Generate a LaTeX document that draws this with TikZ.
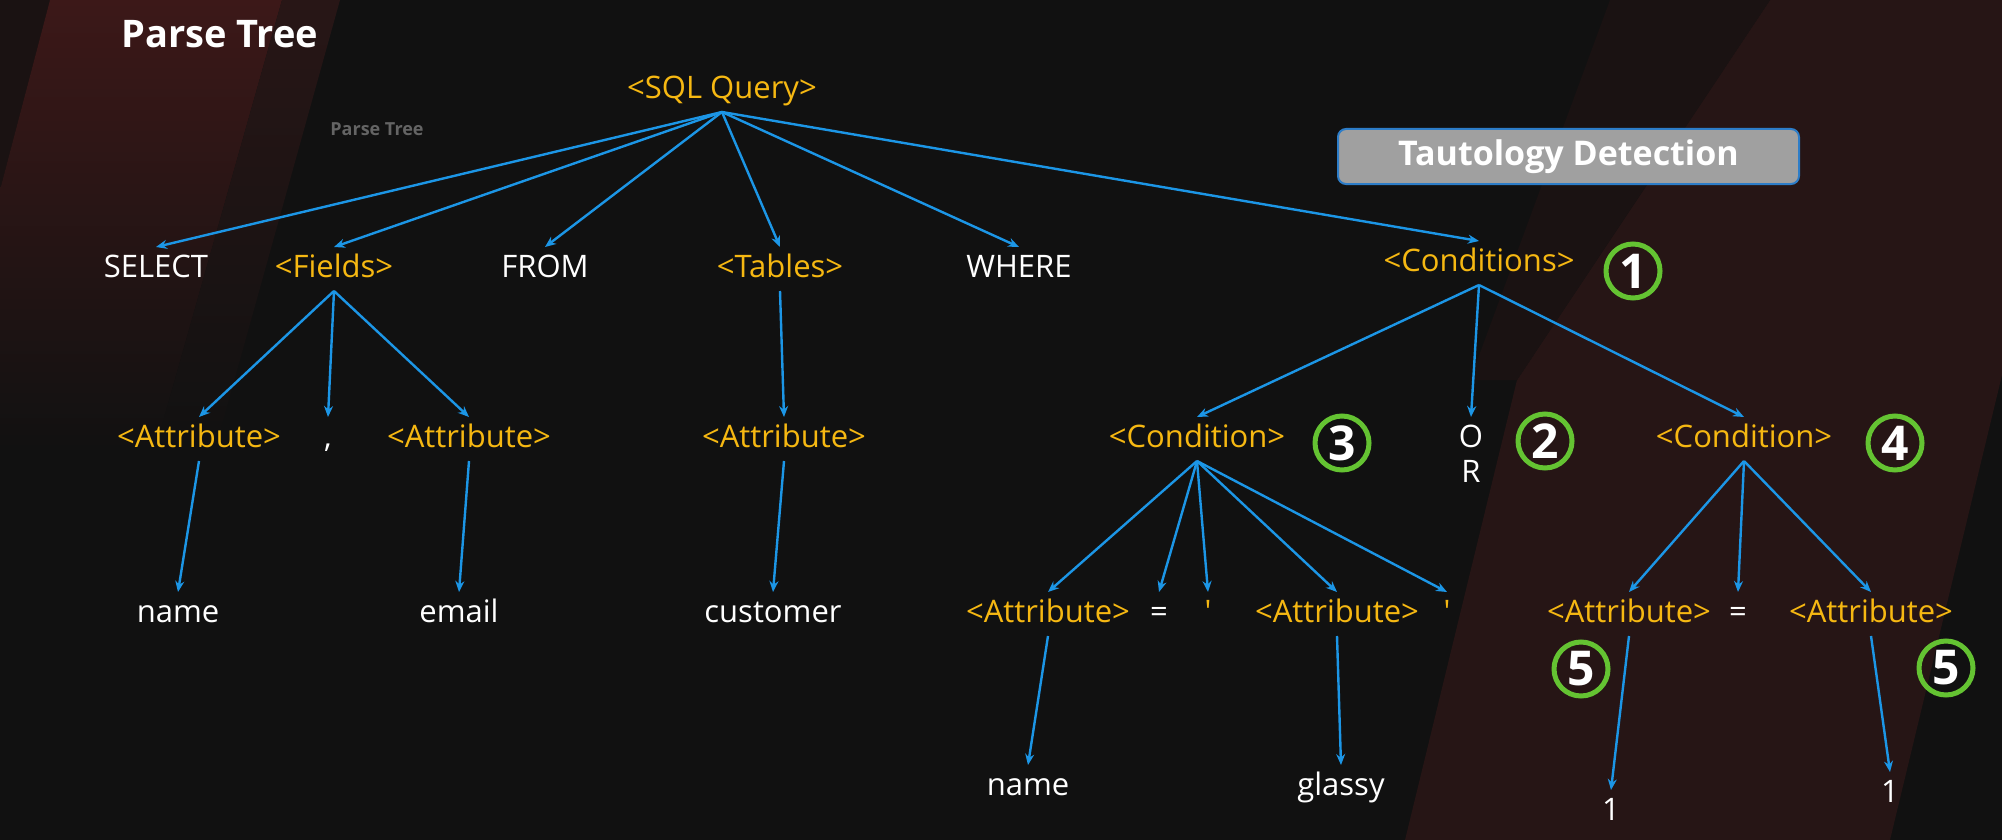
\documentclass[tikz,border=0pt]{standalone}
\usepackage{fontspec}
\setmainfont{Open Sans}
\usetikzlibrary{arrows.meta}
\definecolor{bgc}{RGB}{17,17,17}
\definecolor{redA}{RGB}{60,24,24}
\definecolor{redB}{RGB}{40,22,22}
\definecolor{redC}{RGB}{38,21,21}
\definecolor{redD}{RGB}{26,18,18}
\definecolor{orangeT}{RGB}{246,184,18}
\definecolor{blueA}{RGB}{28,150,230}
\definecolor{greenC}{RGB}{100,195,50}
\definecolor{boxgray}{RGB}{160,160,160}
\definecolor{boxline}{RGB}{45,125,200}
\definecolor{subgray}{RGB}{100,100,100}
\tikzset{
  tbase/.style={inner xsep=0pt, inner ysep=3.5pt, outer sep=0pt, text height=11.5pt, text depth=3.5pt, anchor=base, font=\fontsize{15.5}{18}\selectfont},
  nt/.style={tbase, text=orangeT},
  tm/.style={tbase, text=white},
  arr/.style={draw=blueA, line width=1.2pt, -{Stealth[length=5.5pt,width=4.5pt]}},
  circ/.style={circle, draw=greenC, line width=2.5pt, minimum size=27pt, inner sep=0pt, text=white, font=\bfseries\fontsize{24}{24}\selectfont},
}
\begin{document}
\begin{tikzpicture}[x=0.5pt,y=-0.5pt]
\useasboundingbox (0,0) rectangle (2002,840);
% background
\fill[bgc] (0,0) rectangle (2002,840);
\fill[redD] (0,0) -- (50,0) -- (0,190) -- cycle;
\shade[top color=redA, bottom color=bgc] (50,0) -- (282,0) -- (155,450) -- (0,450) -- (0,190) -- cycle;
\shade[top color=redB, bottom color=bgc] (282,0) -- (340,0) -- (215,450) -- (155,450) -- cycle;
\fill[redC] (1770,0) -- (2002,0) -- (2002,375) -- (1890,840) -- (1405,840) -- (1517,380) -- cycle;
\fill[redD] (1610,0) -- (1770,0) -- (1517,380) -- (1470,380) -- cycle;

% titles
\node[font=\bfseries\fontsize{19}{22}\selectfont, text=white, anchor=base west, inner sep=0pt] (title) at (121,48) {Parse Tree};
\node[font=\bfseries\fontsize{9}{11}\selectfont, text=subgray, anchor=base west, inner sep=0pt] (sub) at (330,135) {Parse Tree};
\node[draw=boxline, fill=boxgray, line width=1pt, rounded corners=4pt, minimum width=230.5pt, minimum height=27.5pt, inner sep=0pt, text=white, font=\bfseries\fontsize{17}{20}\selectfont] (td) at (1568.5,156.5) {Tautology Detection};

% row 0
\node[nt] (sql) at (722,98) {<SQL Query>};
% row 1
\node[tm] (select) at (156,277) {SELECT};
\node[nt] (fields) at (334,277) {<Fields>};
\node[tm] (from) at (545,277) {FROM};
\node[nt] (tables) at (780,277) {<Tables>};
\node[tm] (where) at (1019,277) {WHERE};
\node[nt] (conds) at (1479,271) {<Conditions>};
% row 2
\node[nt] (a1) at (199,447) {<Attribute>};
\node[tm] (comma) at (328,447) {,};
\node[nt] (a2) at (469,447) {<Attribute>};
\node[nt] (a3) at (784,447) {<Attribute>};
\node[nt] (c1) at (1197,447) {<Condition>};
\node[tm] (orO) at (1471,447) {O};
\node[tm] (orR) at (1471,482) {R};
\node[nt] (c2) at (1744,447) {<Condition>};
% row 3
\node[tm] (name1) at (178,622) {name};
\node[tm] (email) at (459,622) {email};
\node[tm] (customer) at (773,622) {customer};
\node[nt] (c1a) at (1048,622) {<Attribute>};
\node[tm] (eq1) at (1159,622) {=};
\node[nt] (q1) at (1208,622) {\textquotesingle};
\node[nt] (c1b) at (1337,622) {<Attribute>};
\node[nt] (q2) at (1447,622) {\textquotesingle};
\node[nt] (c2a) at (1629,622) {<Attribute>};
\node[tm] (eq2) at (1738,622) {=};
\node[nt] (c2b) at (1871,622) {<Attribute>};
% row 4
\node[tm] (name2) at (1028,795) {name};
\node[tm] (glassy) at (1341,795) {glassy};
\node[tm] (one1) at (1611,820) {1};
\node[tm] (one2) at (1890,802) {1};

% circled numbers
\node[circ] (k1) at (1633,271) {1};
\node[circ] (k2) at (1545,441) {2};
\node[circ] (k3) at (1342,443) {3};
\node[circ] (k4) at (1895,443) {4};
\node[circ] (k5a) at (1581,669) {5};
\node[circ] (k5b) at (1946,668) {5};

% connectors
\foreach \c in {select,fields,from,tables,where,conds} \draw[arr] (sql.south) -- (\c.north);
\foreach \c in {a1,comma,a2} \draw[arr] (fields.south) -- (\c.north);
\draw[arr] (tables.south) -- (a3.north);
\foreach \c in {c1,orO,c2} \draw[arr] (conds.south) -- (\c.north);
\draw[arr] (a1.south) -- (name1.north);
\draw[arr] (a2.south) -- (email.north);
\draw[arr] (a3.south) -- (customer.north);
\foreach \c in {c1a,eq1,q1,c1b,q2} \draw[arr] (c1.south) -- (\c.north);
\foreach \c in {c2a,eq2,c2b} \draw[arr] (c2.south) -- (\c.north);
\draw[arr] (c1a.south) -- (name2.north);
\draw[arr] (c1b.south) -- (glassy.north);
\draw[arr] (c2a.south) -- (one1.north);
\draw[arr] (c2b.south) -- (one2.north);
\end{tikzpicture}
\end{document}
